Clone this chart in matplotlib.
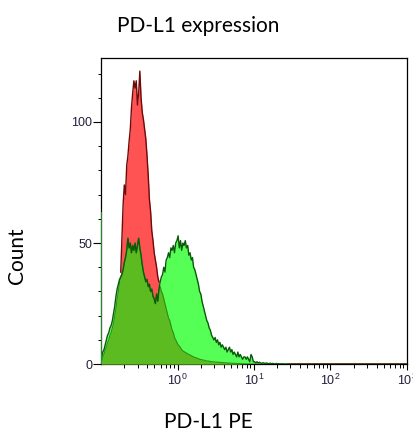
import numpy as np
import matplotlib
matplotlib.use("Agg")
import matplotlib.pyplot as plt
from matplotlib.ticker import FixedLocator, NullFormatter

plt.rcParams["mathtext.fontset"] = "custom"
plt.rcParams["mathtext.rm"] = "Liberation Sans"
plt.rcParams["mathtext.it"] = "Liberation Sans:italic"

# ---- data: histogram counts in log-spaced bins (1/64 decade), starting at 10^-1 ----
bins_per_decade = 64
log_start = -1.0
n_bins = 256

green_counts = [
    3, 5, 6, 8, 10, 12, 13, 15, 16, 18, 21, 24, 28, 31, 33, 35,
    36, 37, 39, 42, 44, 47, 52, 48, 50, 46, 49, 47, 50, 46, 49, 52,
    48, 45, 41, 38, 36, 34, 35, 32, 33, 30, 31, 28, 27, 25, 29, 26,
    31, 34, 36, 37, 40, 38, 43, 44, 46, 44, 48, 47, 49, 46, 50, 51,
    53, 48, 51, 47, 50, 49, 51, 48, 49, 45, 46, 43, 44, 40, 39, 37,
    35, 33, 30, 29, 26, 24, 22, 20, 18, 17, 15, 14, 12, 11, 10, 11,
    9, 10, 8, 9, 7, 8, 7, 6, 7, 5, 6, 7, 5, 6, 4, 5,
    4, 3, 5, 3, 4, 3, 2, 3, 3, 2, 3, 2, 1, 4, 3, 1,
    1, 0.5, 1, 0.5, 0.8, 0.5, 0.3, 0.6, 0.4, 0.3, 0.5, 0.3, 0.2, 0.4, 0.2, 0.3,
    0.2, 0.1, 0.3, 0.1, 0.2, 0.1, 0.1, 0.2, 0, 0.1, 0, 0.1, 0, 0, 0.1, 0,
]
green_offscale = 63

red_counts = [
    1, 3, 4, 6, 7, 9, 10, 12, 13, 15, 17, 20, 23, 27, 30, 34,
    38, 52, 66, 74, 70, 82, 86, 92, 97, 106, 112, 117, 114, 117, 107, 112,
    121, 110, 104, 101, 97, 93, 86, 78, 68, 63, 55, 51, 46, 43, 40, 36,
    34, 32, 30, 29, 27, 25, 23, 21, 19, 18, 16, 14, 13, 11, 10, 9,
    8, 7.5, 6.8, 6, 5.5, 5.2, 4.8, 4.6, 4.3, 4.0, 3.8, 3.5, 3.2, 3.0, 2.8, 2.6,
    2.4, 2.3, 2.0, 1.9, 1.8, 1.7, 1.6, 1.4, 1.3, 1.3, 1.2, 1.1, 1.0, 1.0, 0.9, 0.9,
    0.8, 0.9, 0.7, 0.8, 0.6, 0.7, 0.6, 0.5, 0.6, 0.5, 0.4, 0.5, 0.4, 0.4, 0.3, 0.4,
    0.3, 0.3, 0.2, 0.3, 0.2, 0.2, 0.1, 0.2, 0.1, 0.1, 0.1, 0, 0.1, 0, 0, 0,
]

y_major = [0, 50, 100]
x_major_labels = [r"$10^{0}$", r"$10^{1}$", r"$10^{2}$", r"$10^{3}$"]
x_major = [1, 10, 100, 1000]

title = "PD-L1 expression"
xlabel = "PD-L1 PE"
ylabel = "Count"

# ---- build ----
def padded(vals):
    a = np.zeros(n_bins)
    a[:len(vals)] = vals
    return a

g = padded(green_counts)
r = padded(red_counts)
centers = 10 ** (log_start + (np.arange(n_bins) + 0.5) / bins_per_decade)
xmin, xmax = 0.1, 1000
x = np.concatenate([[xmin], centers, [xmax]])
gg = np.concatenate([[g[0]], g, [0]])
rr = np.concatenate([[r[0]], r, [0]])
ov = np.minimum(gg, rr)

fig = plt.figure(figsize=(4.14, 4.33), dpi=100)
ax = fig.add_axes([0.244, 0.159, 0.739, 0.707])

red_fill = "#ff5252"
red_line = "#6e0a0a"
green_fill = "#55ff55"
green_line = "#0a5a0a"
ov_fill = "#5cbb20"
ov_line = "#2f8f14"

ax.fill_between(x, 0, rr, color=red_fill, lw=0, zorder=1)
ax.fill_between(x, 0, gg, color=green_fill, lw=0, zorder=2)
ax.fill_between(x, 0, ov, color=ov_fill, lw=0, zorder=3)
ax.plot(x, ov, color=ov_line, lw=0.8, zorder=4)
ax.plot(x, gg, color=green_line, lw=1.0, zorder=5)
rmask = np.where(rr >= gg, rr, np.nan)
ax.plot(x, rmask, color=red_line, lw=1.0, zorder=6)
ax.vlines(xmin, 0, green_offscale, color="#2fa02f", lw=1.2, zorder=7)

ax.set_xscale("log")
ax.set_xlim(xmin, xmax)
ax.set_ylim(0, 126.4)

ax.xaxis.set_major_locator(FixedLocator(x_major))
ax.set_xticklabels(x_major_labels)
minor = [m * 10.0 ** d for d in range(-1, 3) for m in range(2, 10)]
ax.xaxis.set_minor_locator(FixedLocator(minor))
ax.xaxis.set_minor_formatter(NullFormatter())

ax.yaxis.set_major_locator(FixedLocator(y_major))
ax.yaxis.set_minor_locator(FixedLocator([v for v in range(10, 130, 10) if v not in y_major]))
ax.yaxis.set_minor_formatter(NullFormatter())

for s in ax.spines.values():
    s.set_linewidth(0.9)
    s.set_color("black")

for lab in ax.get_xticklabels() + ax.get_yticklabels():
    lab.set_family("Liberation Sans")

ax.tick_params(axis="y", which="major", direction="out", length=5.8, width=0.8,
               labelsize=9, labelcolor="#20203a", pad=0.5)
ax.tick_params(axis="y", which="minor", direction="out", length=2.2, width=0.7)
ax.tick_params(axis="x", which="major", direction="out", length=4.3, width=0.8,
               labelsize=9, labelcolor="#20203a", pad=2.0)
ax.tick_params(axis="x", which="minor", direction="out", length=2.9, width=0.7)

fig.text(0.479, 0.926, title, ha="center", va="baseline", fontsize=15, family="Lato")
fig.text(0.503, 0.012, xlabel, ha="center", va="baseline", fontsize=15, family="Lato")
fig.text(0.040, 0.409, ylabel, ha="center", va="center", fontsize=15, family="Lato",
         rotation=90)

fig.savefig("out.png", dpi=100)
